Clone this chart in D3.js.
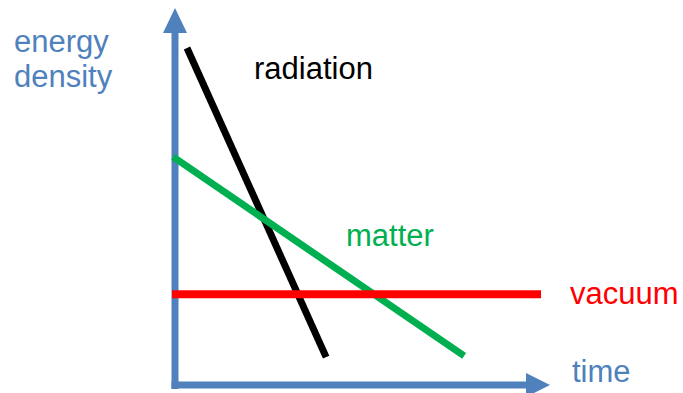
<!DOCTYPE html>
<html>
<head>
<meta charset="utf-8">
<script src="https://cdn.jsdelivr.net/npm/d3@7"></script>
<style>
  html, body { margin: 0; padding: 0; background: #fff; }
  svg { display: block; }
  text { font-family: "Liberation Sans", Arial, sans-serif; }
</style>
</head>
<body>
<div id="chart"></div>
<script>
// schematic: energy density vs time (arbitrary units 0..100)
const series = ['radiation', 'matter', 'vacuum'];
const seriesColors = ['#000000', '#00b050', '#ff0000'];
const radiation = [[3.2, 89.4], [40.3, 7.4]];
const matter = [[-0.5, 60.5], [77.1, 7.7]];
const vacuum = [[-0.8, 24.1], [97.6, 24.1]];
const xLabel = 'time';
const yLabel = ['energy', 'density'];

const W = 683, H = 393;
const blue = '#4f81bd';
const fs = '31px';

const svg = d3.select('#chart').append('svg')
  .attr('width', W).attr('height', H);

const x = d3.scaleLinear().domain([0, 100]).range([175, 550]);
const y = d3.scaleLinear().domain([0, 100]).range([385, 8]);

const line = d3.line().x(d => x(d[0])).y(d => y(d[1]));

// vertical axis + arrow
svg.append('line')
  .attr('x1', x(0)).attr('y1', y(0) + 4)
  .attr('x2', x(0)).attr('y2', y(100) + 22)
  .attr('stroke', blue).attr('stroke-width', 7);
svg.append('path')
  .attr('d', `M${x(0)},${y(100)} L${x(0) + 12},${y(100) + 25} L${x(0) - 12},${y(100) + 25} Z`)
  .attr('fill', blue);

// horizontal axis + arrow
svg.append('line')
  .attr('x1', x(0) - 3.5).attr('y1', y(0))
  .attr('x2', x(100) - 22).attr('y2', y(0))
  .attr('stroke', blue).attr('stroke-width', 7);
svg.append('path')
  .attr('d', `M${x(100)},${y(0)} L${x(100) - 24},${y(0) - 12} L${x(100) - 24},${y(0) + 12} Z`)
  .attr('fill', blue);

// series lines
const data = [radiation, matter, vacuum];
svg.selectAll('.series')
  .data(data)
  .join('path')
  .attr('class', 'series')
  .attr('d', line)
  .attr('fill', 'none')
  .attr('stroke', (d, i) => seriesColors[i])
  .attr('stroke-width', (d, i) => i === 2 ? 8 : 7);

// series labels
const labelPos = [[254, 79], [346, 246], [570, 304]];
svg.selectAll('.lab')
  .data(series)
  .join('text')
  .attr('class', 'lab')
  .attr('x', (d, i) => labelPos[i][0])
  .attr('y', (d, i) => labelPos[i][1])
  .attr('fill', (d, i) => seriesColors[i])
  .style('font-size', fs)
  .text(d => d);

// axis labels
svg.append('text')
  .attr('x', 572).attr('y', 382)
  .attr('fill', blue)
  .style('font-size', fs)
  .text(xLabel);

svg.append('text')
  .attr('x', 14).attr('y', 52)
  .attr('fill', blue)
  .style('font-size', fs)
  .selectAll('tspan')
  .data(yLabel)
  .join('tspan')
  .attr('x', 14)
  .attr('dy', (d, i) => i === 0 ? 0 : 35)
  .text(d => d);
</script>
</body>
</html>
